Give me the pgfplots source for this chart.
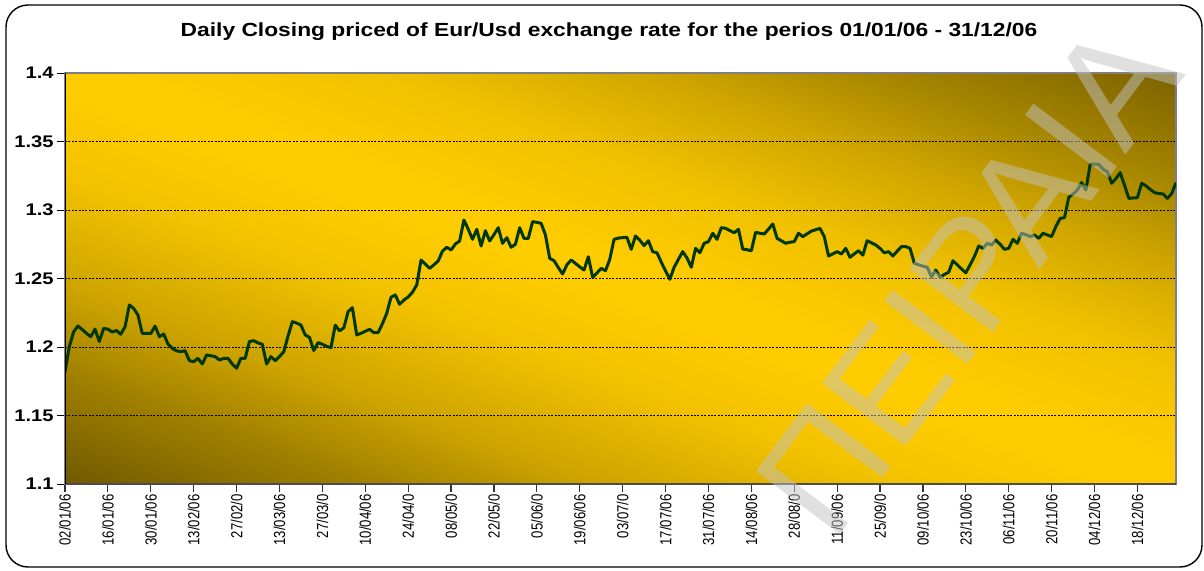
\documentclass[border=0pt]{standalone}
\usepackage{fontspec}
\setmainfont{Liberation Sans}
\newfontfamily\narrowfont[FakeStretch=0.82]{Liberation Sans}
\newfontfamily\widefont[FakeStretch=1.2]{Liberation Sans}
\usepackage{pgfplots}
\usepackage{pgfplotstable}
\pgfplotsset{compat=1.18}
\definecolor{gold}{RGB}{255,204,0}
\definecolor{darkgoldA}{RGB}{122,98,0}
\definecolor{darkgoldB}{RGB}{112,89,0}
\colorlet{goldA90}{gold!90!darkgoldA}
\colorlet{goldA65}{gold!65!darkgoldA}
\colorlet{goldA35}{gold!35!darkgoldA}
\colorlet{goldB92}{gold!92!darkgoldB}
\colorlet{goldB65}{gold!65!darkgoldB}
\colorlet{goldB35}{gold!35!darkgoldB}
\definecolor{linegreen}{RGB}{0,56,0}
\definecolor{wmgray}{RGB}{194,194,194}
\pgfdeclareverticalshading{goldband}{100bp}{color(0bp)=(darkgoldB); color(25bp)=(darkgoldB); color(32bp)=(goldB35); color(37bp)=(goldB65); color(44bp)=(goldB92); color(49bp)=(gold); color(51bp)=(gold); color(57bp)=(goldA90); color(63bp)=(goldA65); color(68bp)=(goldA35); color(75bp)=(darkgoldA); color(100bp)=(darkgoldA)}

\pgfplotstableread{
x y
0 1.1820
1 1.2002
2 1.2110
3 1.2153
4 1.2128
5 1.2100
6 1.2075
7 1.2130
8 1.2040
9 1.2136
10 1.2130
11 1.2110
12 1.2120
13 1.2093
14 1.2148
15 1.2307
16 1.2282
17 1.2234
18 1.2100
19 1.2100
20 1.2098
21 1.2153
22 1.2075
23 1.2095
24 1.2022
25 1.1990
26 1.1972
27 1.1966
28 1.1973
29 1.1900
30 1.1893
31 1.1917
32 1.1876
33 1.1942
34 1.1936
35 1.1930
36 1.1905
37 1.1917
38 1.1917
39 1.1876
40 1.1845
41 1.1917
42 1.1917
43 1.2040
44 1.2046
45 1.2030
46 1.2020
47 1.1876
48 1.1930
49 1.1900
50 1.1930
51 1.1966
52 1.2080
53 1.2185
54 1.2175
55 1.2160
56 1.2088
57 1.2070
58 1.1974
59 1.2032
60 1.2020
61 1.2005
62 1.1995
63 1.2160
64 1.2118
65 1.2140
66 1.2258
67 1.2287
68 1.2088
69 1.2100
70 1.2115
71 1.2129
72 1.2105
73 1.2105
74 1.2170
75 1.2246
76 1.2363
77 1.2380
78 1.2312
79 1.2343
80 1.2365
81 1.2400
82 1.2453
83 1.2635
84 1.2605
85 1.2574
86 1.2600
87 1.2628
88 1.2700
89 1.2728
90 1.2708
91 1.2752
92 1.2774
93 1.2927
94 1.2860
95 1.2786
96 1.2859
97 1.2737
98 1.2849
99 1.2774
100 1.2820
101 1.2871
102 1.2757
103 1.2798
104 1.2728
105 1.2750
106 1.2871
107 1.2793
108 1.2793
109 1.2915
110 1.2910
111 1.2903
112 1.2818
113 1.2647
114 1.2630
115 1.2580
116 1.2533
117 1.2600
118 1.2635
119 1.2610
120 1.2585
121 1.2562
122 1.2659
123 1.2509
124 1.2540
125 1.2574
126 1.2557
127 1.2640
128 1.2786
129 1.2795
130 1.2798
131 1.2801
132 1.2713
133 1.2810
134 1.2780
135 1.2740
136 1.2776
137 1.2696
138 1.2688
139 1.2620
140 1.2555
141 1.2494
142 1.2582
143 1.2640
144 1.2696
145 1.2650
146 1.2582
147 1.2720
148 1.2688
149 1.2757
150 1.2769
151 1.2830
152 1.2786
153 1.2871
154 1.2866
155 1.2850
156 1.2834
157 1.2859
158 1.2715
159 1.2710
160 1.2703
161 1.2837
162 1.2830
163 1.2825
164 1.2860
165 1.2898
166 1.2793
167 1.2775
168 1.2757
169 1.2765
170 1.2769
171 1.2830
172 1.2806
173 1.2826
174 1.2846
175 1.2856
176 1.2866
177 1.2806
178 1.2664
179 1.2680
180 1.2696
181 1.2679
182 1.2720
183 1.2655
184 1.2680
185 1.2703
186 1.2671
187 1.2776
188 1.2760
189 1.2745
190 1.2720
191 1.2688
192 1.2696
193 1.2664
194 1.2700
195 1.2733
196 1.2733
197 1.2720
198 1.2611
199 1.2600
200 1.2590
201 1.2582
202 1.2513
203 1.2562
204 1.2509
205 1.2530
206 1.2545
207 1.2630
208 1.2600
209 1.2570
210 1.2542
211 1.2600
212 1.2660
213 1.2737
214 1.2720
215 1.2757
216 1.2745
217 1.2781
218 1.2750
219 1.2713
220 1.2720
221 1.2786
222 1.2757
223 1.2830
224 1.2820
225 1.2806
226 1.2818
227 1.2793
228 1.2830
229 1.2818
230 1.2806
231 1.2880
232 1.2939
233 1.2944
234 1.3093
235 1.3117
236 1.3146
237 1.3200
238 1.3146
239 1.3334
240 1.3334
241 1.3334
242 1.3297
243 1.3280
244 1.3195
245 1.3230
246 1.3273
247 1.3180
248 1.3085
249 1.3088
250 1.3090
251 1.3195
252 1.3176
253 1.3150
254 1.3127
255 1.3120
256 1.3117
257 1.3085
258 1.3120
259 1.3200
}\eurusd

\begin{document}
\begin{tikzpicture}
\useasboundingbox (0,0) rectangle (602pt,285pt);
\fill[white] (0,0) rectangle (602pt,285pt);
\draw[black, line width=0.7pt, rounded corners=11pt] (3pt,1.5pt) rectangle (601pt,282.5pt);
\node[font=\widefont\bfseries\fontsize{9.5}{11}\selectfont] at (304.5pt,269pt) {Daily Closing priced of Eur/Usd exchange rate for the perios 01/01/06 - 31/12/06};
% diagonal gold background of the plot area
\begin{scope}
\clip (32.5pt,43pt) rectangle (588pt,248.5pt);
\begin{scope}[transform canvas={shift={(310.25pt,145.75pt)}, xscale=39.28, yscale=14.53, rotate=-45}]
\shade[shading=goldband] (-10pt,-10pt) rectangle (10pt,10pt);
\end{scope}
\end{scope}
\begin{axis}[
  at={(32.5pt,43pt)}, anchor=south west,
  scale only axis, width=555.5pt, height=205.5pt,
  xmin=0, xmax=259, ymin=1.1, ymax=1.4,
  xtick={0,10,...,250},
  xticklabels={02/01/06,16/01/06,30/01/06,13/02/06,27/02/0,13/03/06,27/03/0,10/04/06,24/04/0,08/05/0,22/05/0,05/06/0,19/06/06,03/07/0,17/07/06,31/07/06,14/08/06,28/08/0,11/09/06,25/09/0,09/10/06,23/10/06,06/11/06,20/11/06,04/12/06,18/12/06},
  ytick={1.1,1.15,1.2,1.25,1.3,1.35,1.4},
  yticklabels={1.1,1.15,1.2,1.25,1.3,1.35,1.4},
  xtick pos=bottom, ytick pos=left,
  tick align=outside, major tick length=4pt,
  xtick style={draw=black!80, line width=0.6pt},
  ytick style={draw=black, line width=0.5pt},
  xticklabel style={rotate=90, anchor=east, font=\narrowfont\fontsize{8}{9}\selectfont, inner sep=1pt},
  yticklabel style={font=\widefont\bfseries\fontsize{8.4}{10}\selectfont, inner sep=1.5pt},
  ymajorgrids, grid style={black, line width=0.4pt, dash pattern=on 1pt off 0.7pt},
  axis line style={draw=gray, line width=0.8pt},
]
\addplot[color=linegreen, line width=1.5pt, line join=round] table[x=x, y=y] {\eurusd};
\draw[gray!60!black, line width=1pt] (rel axis cs:0,0) -- (rel axis cs:1,0);
\draw[black, line width=0.6pt] (rel axis cs:0,0) -- (rel axis cs:0,1);
\end{axis}
\begin{scope}
\clip (0,0) rectangle (602pt,285pt);
\node[rotate=53, font=\fontsize{76}{76}\selectfont, text=wmgray, text opacity=0.5] at (484pt,146pt) {ΠΕΙΡΑΙΑ};
\end{scope}
\end{tikzpicture}
\end{document}
